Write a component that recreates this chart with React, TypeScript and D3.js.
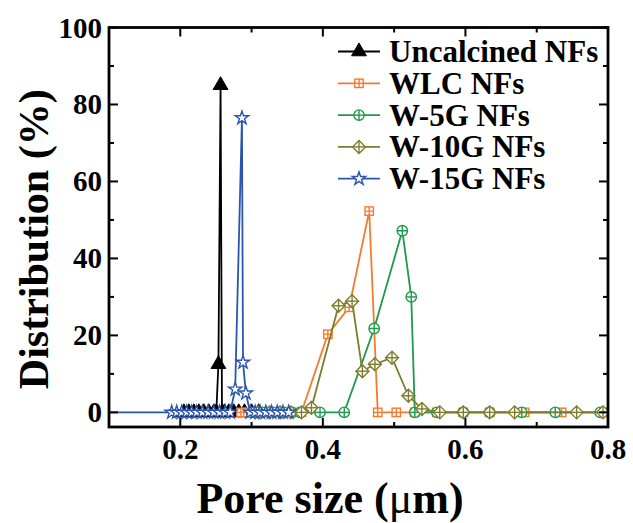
import React, { useEffect } from "react";
import * as d3 from "d3";

const xTicks = [0.2, 0.4, 0.6, 0.8];
const xMinor = [0.3, 0.5, 0.7];
const yTicks = [0, 20, 40, 60, 80, 100];
const yMinor = [10, 30, 50, 70, 90];

const uncalcX = [0.205, 0.212, 0.219, 0.226, 0.233, 0.24, 0.247, 0.2505, 0.2535, 0.2565, 0.2585, 0.262, 0.268, 0.275, 0.282, 0.29, 0.3, 0.31];
const uncalcY = [0, 0, 0, 0, 0, 0, 0, 0, 12.5, 85, 0, 0, 0, 0, 0, 0, 0, 0];

const wlcX = [0.285, 0.295, 0.305, 0.315, 0.325, 0.34, 0.355, 0.37, 0.407, 0.437, 0.465, 0.477, 0.503, 0.529, 0.56, 0.597, 0.634, 0.683, 0.735, 0.793];
const wlcY = [0, 0, 0, 0, 0, 0, 0, 0, 20.3, 27.3, 52.3, 0, 0, 0, 0, 0, 0, 0, 0, 0];

const w5gX = [0.3, 0.315, 0.33, 0.345, 0.357, 0.368, 0.396, 0.43, 0.472, 0.5115, 0.524, 0.529, 0.56, 0.597, 0.634, 0.679, 0.726, 0.789];
const w5gY = [0, 0, 0, 0, 0, 0, 0, 0, 21.8, 47.2, 30, 0, 0, 0, 0, 0, 0, 0];

const w10gX = [0.31, 0.325, 0.34, 0.355, 0.37, 0.384, 0.422, 0.441, 0.4555, 0.473, 0.497, 0.52, 0.539, 0.564, 0.597, 0.634, 0.669, 0.756, 0.793, 0.83];
const w10gY = [0, 0, 0, 0, 0, 1.2, 27.7, 28.9, 10.7, 12.5, 14.2, 4.3, 0.9, 0, 0, 0, 0, 0, 0, 0];

const w15gX = [0.06, 0.188, 0.195, 0.202, 0.209, 0.216, 0.223, 0.231, 0.239, 0.247, 0.255, 0.263, 0.27, 0.277, 0.2865, 0.288, 0.292, 0.298, 0.305, 0.312, 0.32, 0.328, 0.336, 0.344, 0.352];
const w15gY = [0, 0, 0, 0, 0, 0, 0, 0, 0, 0, 0, 0, 0, 6, 76.5, 13, 5, 0, 0, 0, 0, 0, 0, 0, 0];

const seriesNames = ["Uncalcined NFs", "WLC NFs", "W-5G NFs", "W-10G NFs", "W-15G NFs"];
const seriesColors = ["#000000", "#f47a2e", "#1d9a4c", "#7d7d2c", "#2b55b0"];
const seriesMarkers = ["triangle", "square", "circle", "diamond", "star"];
const seriesXs = [uncalcX, wlcX, w5gX, w10gX, w15gX];
const seriesYs = [uncalcY, wlcY, w5gY, w10gY, w15gY];

const W = 633, H = 523;
const L = 109, R = 608, T = 27.5, B = 427;

function Marker({ type, x, y, color }: { type: string; x: number; y: number; color: string }) {
  const sw = 1.4;
  if (type === "triangle") {
    const p = d3.symbol(d3.symbolTriangle, 95)();
    return <path d={p || ""} transform={`translate(${x},${y})`} fill={color} stroke={color} strokeWidth={1} />;
  }
  if (type === "square") {
    const s = 4.2;
    return (
      <g transform={`translate(${x},${y})`} stroke={color} strokeWidth={sw} fill="white">
        <rect x={-s} y={-s} width={2 * s} height={2 * s} />
        <line x1={-s} x2={s} y1={0} y2={0} />
        <line x1={0} x2={0} y1={-s} y2={s} />
      </g>
    );
  }
  if (type === "circle") {
    const r = 5.2;
    return (
      <g transform={`translate(${x},${y})`} stroke={color} strokeWidth={sw} fill="white">
        <circle r={r} />
        <line x1={-r} x2={r} y1={0} y2={0} />
        <line x1={0} x2={0} y1={-r} y2={r} />
      </g>
    );
  }
  if (type === "diamond") {
    const r = 6.5;
    return (
      <g transform={`translate(${x},${y})`} stroke={color} strokeWidth={sw} fill="white">
        <path d={`M0,${-r}L${r},0L0,${r}L${-r},0Z`} />
        <line x1={-r} x2={r} y1={0} y2={0} />
        <line x1={0} x2={0} y1={-r} y2={r} />
      </g>
    );
  }
  const p = d3.symbol(d3.symbolStar, 55)();
  return <path d={p || ""} transform={`translate(${x},${y})`} fill="white" stroke={color} strokeWidth={sw} />;
}

export default function App() {
  useEffect(() => {
    document.body.style.margin = "0";
  }, []);
  const x = d3.scaleLinear().domain([0.1, 0.8]).range([L, R]);
  const y = d3.scaleLinear().domain([-3.8, 100]).range([B, T]);
  const line = d3.line<[number, number]>().x((d) => x(d[0])).y((d) => y(d[1]));
  const font = "'Liberation Serif', 'Times New Roman', serif";

  return (
    <svg width={W} height={H} style={{ position: "absolute", left: 0, top: 0, background: "white" }}>
      <defs>
        <clipPath id="plotclip">
          <rect x={L} y={T} width={R - L} height={B - T} />
        </clipPath>
      </defs>
      <g clipPath="url(#plotclip)">
        {seriesNames.map((name, i) => {
          const pts: [number, number][] = seriesXs[i].map((v, j) => [v, seriesYs[i][j]]);
          return (
            <g key={name}>
              <path d={line(pts) || ""} fill="none" stroke={seriesColors[i]} strokeWidth={1.8} />
              {pts.map((p, j) => (
                <Marker key={j} type={seriesMarkers[i]} x={x(p[0])} y={y(p[1])} color={seriesColors[i]} />
              ))}
            </g>
          );
        })}
      </g>
      <rect x={L} y={T} width={R - L} height={B - T} fill="none" stroke="black" strokeWidth={2.8} />
      {xTicks.map((t) => (
        <g key={"xt" + t}>
          <line x1={x(t)} x2={x(t)} y1={B} y2={B - 9} stroke="black" strokeWidth={2} />
          <line x1={x(t)} x2={x(t)} y1={T} y2={T + 9} stroke="black" strokeWidth={2} />
          <text x={x(t)} y={459} textAnchor="middle" fontFamily={font} fontWeight="bold" fontSize={29}>
            {t.toFixed(1)}
          </text>
        </g>
      ))}
      {xMinor.map((t) => (
        <g key={"xm" + t}>
          <line x1={x(t)} x2={x(t)} y1={B} y2={B - 5} stroke="black" strokeWidth={2} />
          <line x1={x(t)} x2={x(t)} y1={T} y2={T + 5} stroke="black" strokeWidth={2} />
        </g>
      ))}
      {yTicks.map((t) => (
        <g key={"yt" + t}>
          <line x1={L} x2={L + 9} y1={y(t)} y2={y(t)} stroke="black" strokeWidth={2} />
          <line x1={R} x2={R - 9} y1={y(t)} y2={y(t)} stroke="black" strokeWidth={2} />
          <text x={L - 7} y={y(t) + 10} textAnchor="end" fontFamily={font} fontWeight="bold" fontSize={29}>
            {t}
          </text>
        </g>
      ))}
      {yMinor.map((t) => (
        <g key={"ym" + t}>
          <line x1={L} x2={L + 5} y1={y(t)} y2={y(t)} stroke="black" strokeWidth={2} />
          <line x1={R} x2={R - 5} y1={y(t)} y2={y(t)} stroke="black" strokeWidth={2} />
        </g>
      ))}
      <text x={330} y={513} textAnchor="middle" fontFamily={font} fontWeight="bold" fontSize={44}>
        Pore size (<tspan fontWeight="normal">μ</tspan>m)
      </text>
      <text
        transform={`translate(48,${(T + B) / 2 + 12}) rotate(-90)`}
        textAnchor="middle"
        fontFamily={font}
        fontWeight="bold"
        fontSize={42}
      >
        Distribution (%)
      </text>
      {seriesNames.map((name, i) => {
        const ly = 51.5 + i * 31.8;
        return (
          <g key={"lg" + name}>
            <line x1={338} x2={380} y1={ly} y2={ly} stroke={seriesColors[i]} strokeWidth={1.8} />
            <Marker type={seriesMarkers[i]} x={359} y={ly} color={seriesColors[i]} />
            <text x={389} y={ly + 10.5} fontFamily={font} fontWeight="bold" fontSize={31}>
              {name}
            </text>
          </g>
        );
      })}
    </svg>
  );
}
